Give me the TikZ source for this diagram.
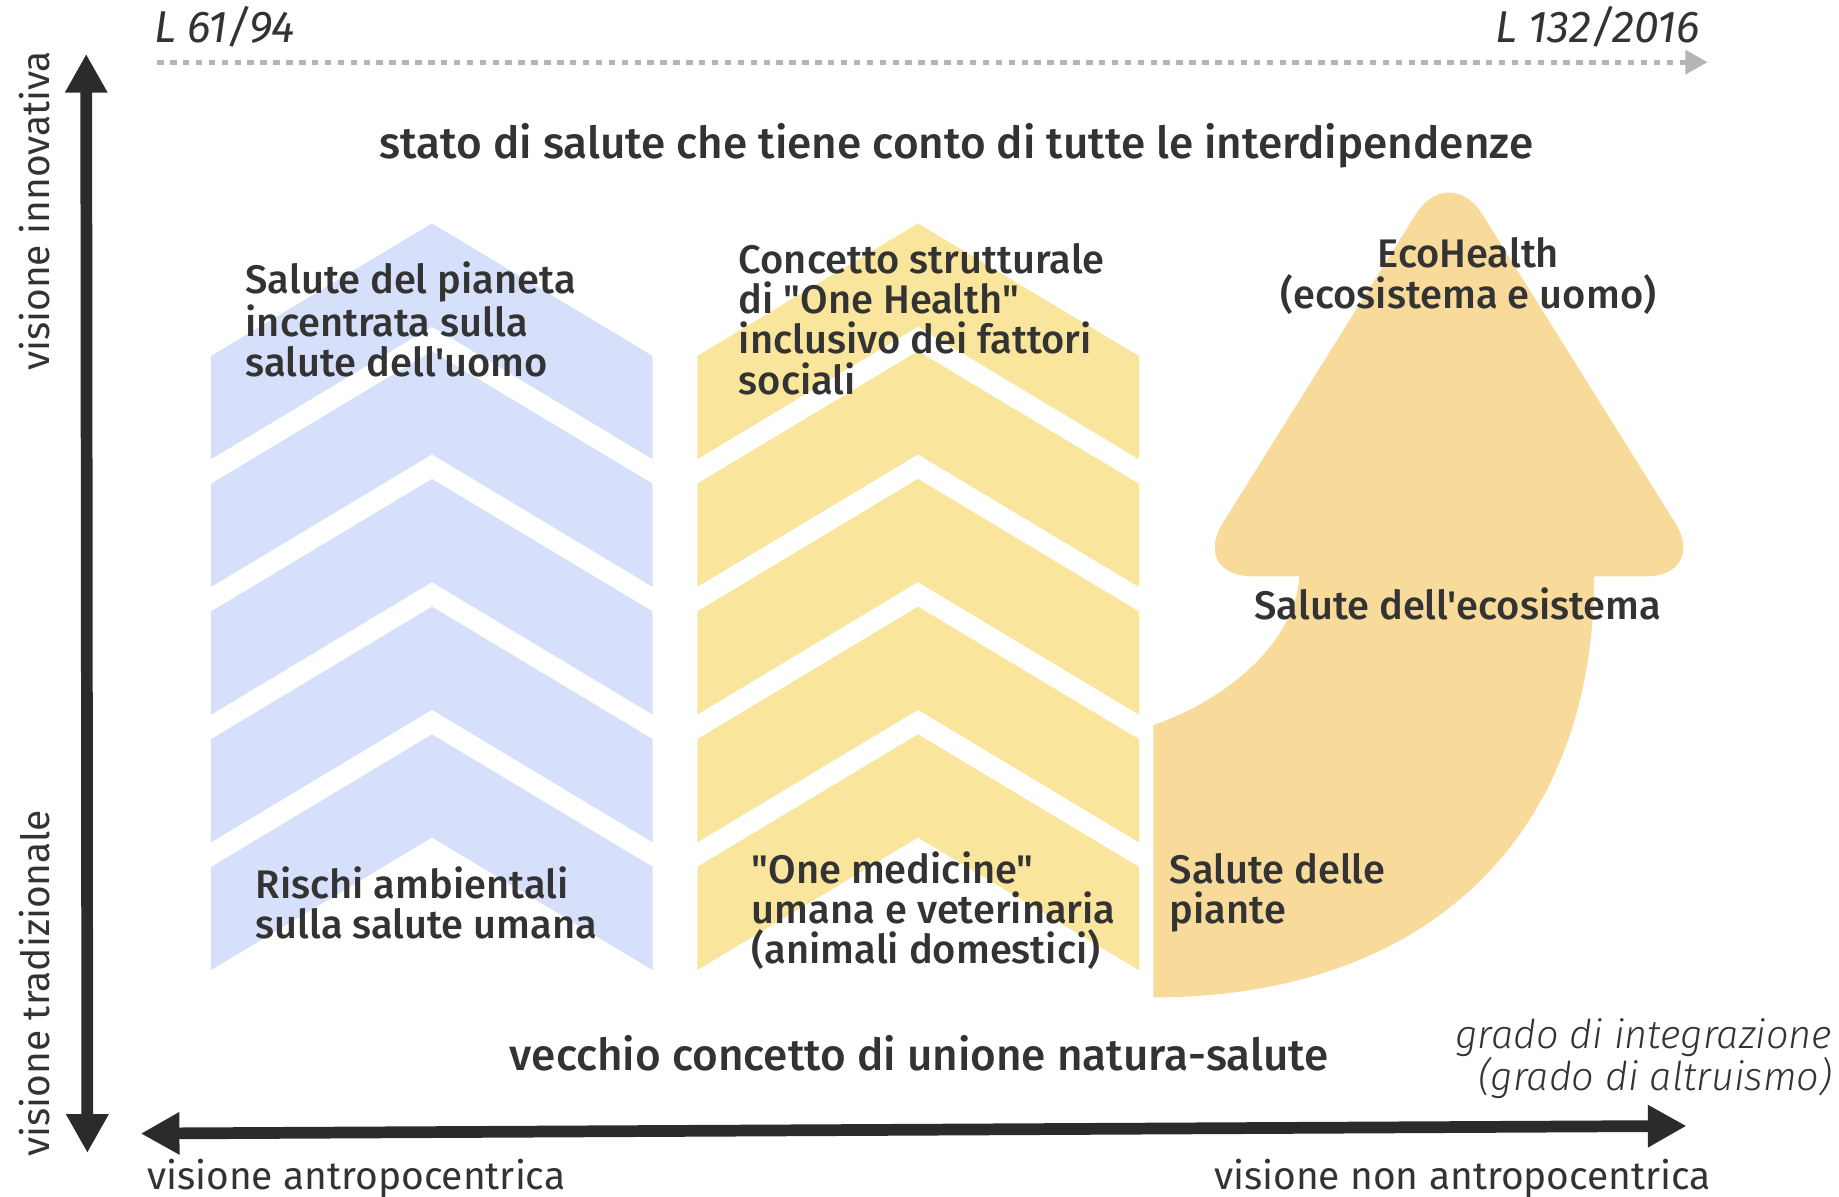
\documentclass[tikz,border=0pt]{standalone}
\usepackage{fontspec}
\usetikzlibrary{arrows.meta}
\newfontfamily\rb{Fira Sans}[BoldFont={Fira Sans Medium}]
\newfontfamily\rl{Fira Sans Light}
\definecolor{txt}{HTML}{333333}
\definecolor{axiscol}{HTML}{2B2B2B}
\definecolor{dotgray}{HTML}{B5B5B5}
\definecolor{bluef}{HTML}{D6E0FA}
\definecolor{yelf}{HTML}{F9E59C}
\definecolor{orf}{HTML}{F8DA9B}
\tikzset{
  lbl/.style={text=txt, font=\rb\bfseries\fontsize{17}{17.15}\selectfont, align=left, inner sep=0pt},
  title/.style={text=txt, font=\rb\bfseries\fontsize{18.8}{20}\selectfont, inner sep=0pt},
  axlbl/.style={text=txt, font=\rb\fontsize{16.6}{18}\selectfont, inner sep=0pt},
  itlbl/.style={text=txt, font=\rb\itshape\fontsize{19}{20}\selectfont, inner sep=0pt},
  bigarrow/.style={draw=axiscol, line width=5pt, {Triangle[length=16.5pt,width=17pt]}-{Triangle[length=16.5pt,width=17pt]}},
  timearrow/.style={draw=dotgray, line width=2pt, dash pattern=on 2.75pt off 2.75pt, -{Triangle[length=9.5pt,width=10pt]}}
}
\begin{document}
\begin{tikzpicture}[x=0.5pt,y=-0.5pt]
\useasboundingbox (0,0) rectangle (1568,1019.8);

% chevron columns
\foreach \k in {0,...,4}{
  \pgfmathsetmacro\e{303.5+108.9*\k}
  \fill[bluef] (180,\e) -- (368.3,\e-113) -- (556.5,\e) -- (556.5,\e+88) -- (368.3,\e-25) -- (180,\e+88) -- cycle;
  \fill[yelf] (594.5,\e) -- (782.7,\e-113) -- (971,\e) -- (971,\e+88) -- (782.7,\e-25) -- (594.5,\e+88) -- cycle;
}

% curved arrow
\fill[orf] (983.4,850.4) -- (983.4,618.2) .. controls (1047,596) and (1104,548) .. (1107.9,491.4)
  -- (1107.9,470) -- (1359.2,470) -- (1359.2,491.4)
  .. controls (1359.2,714) and (1216,850.4) .. (983.4,850.4) -- cycle;
\fill[orf, rounded corners=27pt] (1014.2,491.4) -- (1235.5,137.3) -- (1456.8,491.4) -- cycle;

% axes
\coordinate (vt) at (73.5,46);
\coordinate (vb) at (74.5,983);
\coordinate (hl) at (120,966.5);
\coordinate (hr) at (1438,960);
\coordinate (ds) at (134,53);
\coordinate (de) at (1456,53);
\draw[bigarrow] (vt) -- (vb);
\draw[bigarrow] (hl) -- (hr);
\draw[timearrow] (ds) -- (de);

% texts
\node[itlbl, anchor=base west] (l61) at (131,36) {L 61/94};
\node[itlbl, anchor=base east] (l132) at (1450,36) {L 132/2016};
\node[title, anchor=base] (top) at (815.5,135.4) {stato di salute che tiene conto di tutte le interdipendenze};
\node[title, anchor=base] (bottom) at (783.9,913) {vecchio concetto di unione natura-salute};

\node[lbl, anchor=base west] (pianeta) at (209,321.4) {Salute del pianeta\\incentrata sulla\\salute dell'uomo};
\node[lbl, anchor=base west] (onehealth) at (629.5,336) {Concetto strutturale\\di "One Health"\\inclusivo dei fattori\\sociali};
\node[lbl, align=center, anchor=base] (eco) at (1252,262.7) {EcoHealth\\(ecosistema e uomo)};
\node[lbl, anchor=base] (ecosis) at (1243,528) {Salute dell'ecosistema};
\node[lbl, anchor=base west] (piante) at (997,787.4) {Salute delle\\piante};
\node[lbl, anchor=base west] (rischi) at (217.7,800.4) {Rischi ambientali\\sulla salute umana};
\node[lbl, anchor=base west] (onemed) at (640.5,821.7) {"One medicine"\\umana e veterinaria\\(animali domestici)};

\node[align=right, anchor=base east, text=txt, inner sep=0pt, font=\rl\itshape\fontsize{16.9}{17.9}\selectfont] (grado) at (1562.6,929.4) {grado di integrazione\\(grado di altruismo)};
\node[axlbl, anchor=base west] (antro) at (125,1014) {visione antropocentrica};
\node[axlbl, anchor=base west] (nonantro) at (1034.7,1014) {visione non antropocentrica};
\node[axlbl, rotate=90, anchor=base west] (innov) at (42.5,316.7) {visione innovativa};
\node[axlbl, rotate=90, anchor=base west] (trad) at (42.5,986.4) {visione tradizionale};
\end{tikzpicture}
\end{document}
